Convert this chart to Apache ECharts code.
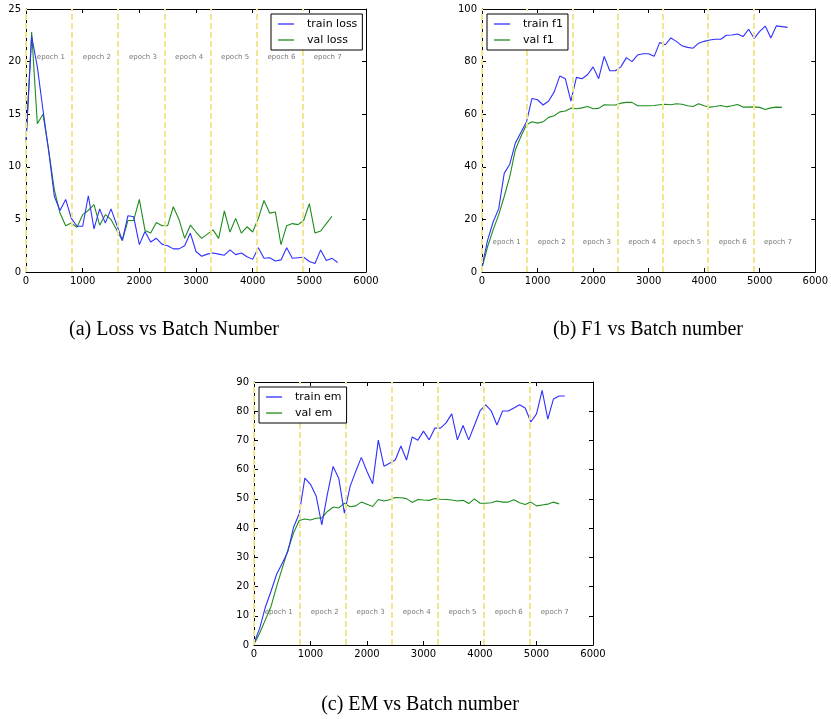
<!DOCTYPE html>
<html>
<head>
<meta charset="utf-8">
<script src="https://cdn.jsdelivr.net/npm/echarts@6/dist/echarts.min.js"></script>
<style>html,body{margin:0;padding:0;background:#fff;}#c{width:831px;height:719px;}</style>
</head>
<body>
<div id="c"></div>
<script>
// ---- data ----
const trainBatches = [0,100,200,300,400,500,600,700,800,900,1000,1100,1200,1300,1400,1500,1600,1700,1800,1900,2000,2100,2200,2300,2400,2500,2600,2700,2800,2900,3000,3100,3200,3300,3400,3500,3600,3700,3800,3900,4000,4100,4200,4300,4400,4500,4600,4700,4800,4900,5000,5100,5200,5300,5400,5500];
const valBatches = [0,100,200,300,400,500,600,700,800,900,1000,1100,1200,1300,1400,1500,1600,1700,1800,1900,2000,2100,2200,2300,2400,2500,2600,2700,2800,2900,3000,3100,3200,3300,3400,3500,3600,3700,3800,3900,4000,4100,4200,4300,4400,4500,4600,4700,4800,4900,5000,5100,5200,5300,5400];

const trainLoss = [12.5,22.4,19.5,15.4,11.5,7.2,5.85,6.9,5.1,4.35, 4.35,7.25,4.1,6.0,4.65,6.0,4.5,3.0,5.35,5.25, 2.6,3.85,2.85,3.2,2.65,2.5,2.2,2.2,2.5,3.7, 1.95,1.5,1.7,1.8,1.7,1.6,2.1,1.65,1.8,1.45, 1.2,2.3,1.3,1.35,1.05,1.15,2.3,1.3,1.35,1.4, 1.0,0.8,2.1,1.1,1.3,0.9];
const valLoss = [12.3,22.8,14.1,15.0,11.6,7.8,5.6,4.4,4.65,4.25, 5.45,5.85,6.4,4.45,5.45,5.0,4.0,3.0,4.9,4.9, 6.9,3.95,3.7,4.7,4.4,4.4,6.2,5.0,3.2,4.45, 3.8,3.2,3.6,4.0,3.2,5.8,3.8,5.1,3.7,4.3, 3.8,5.1,6.8,5.6,5.7,2.6,4.4,4.6,4.5,4.9, 6.5,3.7,3.9,4.6,5.3];

const trainF1 = [2,12,19,24,37.5,41,49,53,57,66, 65.5,63.5,65,68.5,74.5,73.5,65,74,73.5,75, 78,73.5,82,76.5,76.5,78,81.5,80,82.5,83, 83,82,87.3,86.4,89,87.7,86,85.4,85.1,87, 87.7,88.2,88.5,88.5,90,90.1,90.5,89.5,92.3,88.8, 91.5,93.5,89,93.6,93.3,93];
const valF1 = [1.5,9.6,16,21.7,28.7,36.3,46.4,51.5,56,57.1, 56.6,57.1,58.8,59.4,60.9,61.2,62.3,62.1,62.4,62.9, 62.1,62.2,63.6,63.5,63.5,64.2,64.5,64.5,63.2,63.2, 63.2,63.3,63.6,63.8,63.6,64.0,63.8,63.2,62.9,64.0, 63.2,62.7,62.9,63.3,62.8,63.2,63.7,62.7,62.7,62.8, 62.6,61.8,62.4,62.7,62.6];

const trainEM = [0.6,5.7,12.9,18.3,24.2,28,32,40.3,44.9,57.1, 55,51,41.1,51.7,61.1,57.1,45.1,54.2,59.4,64.2, 59.4,55.2,70.1,61.2,62.2,63.3,68.1,63.3,71.2,70.1, 73.2,70.2,74.2,74.2,76,79.1,70.2,75.1,70.2,75.1, 80.1,82.2,80.1,75.3,80.1,80.1,81.1,82.2,81.1,76.3, 79.1,87.1,77.3,84.2,85.2,85.2];
const valEM = [0.3,4,8.6,13.1,20,26.3,32.5,38.3,42.6,43.1, 42.8,43.4,43.5,45.7,47.2,46.9,48.5,47.3,47.6,48.9, 48.2,47.4,49.8,49.3,49.7,50.5,50.4,50.1,48.8,49.8, 49.6,49.5,50.1,49.9,49.8,49.6,49.3,49.5,48.4,50, 48.5,48.5,48.7,49.3,48.9,48.9,49.7,48.7,48.1,48.9, 47.6,47.9,48.2,48.9,48.3];

const epochBounds = [0,812,1625,2440,3252,4070,4885];
const epochNames = ['epoch 1','epoch 2','epoch 3','epoch 4','epoch 5','epoch 6','epoch 7'];
const epochLabelX = [200,1012,1825,2640,3452,4270,5085];
const epochLabelY = [20,10,10];

const xTicks = {min:0, max:6000, interval:1000};
const yTicks = [{min:0,max:25,interval:5},{min:0,max:100,interval:20},{min:0,max:90,interval:10}];

const seriesNames = [['train loss','val loss'],['train f1','val f1'],['train em','val em']];
const trainData = [trainLoss, trainF1, trainEM];
const valData = [valLoss, valF1, valEM];
const captions = ['(a) Loss vs Batch Number','(b) F1 vs Batch number','(c) EM vs Batch number'];

// ---- layout / styles ----
const grids = [
  {left:26, top:9, width:340, height:263},
  {left:482, top:9, width:339, height:263},
  {left:254, top:382, width:339, height:263}
];
const legendPos = [{left:271, top:14},{left:487, top:14},{left:259, top:387}];
const captionPos = [[174,330],[648,330],[420,705]];

const FONT = 'DejaVu Sans';
const BLUE = '#3030ff', GREEN = '#1e8c1e', EPOCH = '#efe68f';

function pairs(xs, ys){ return ys.map((v,i)=>[xs[i], v]); }
const plain = v => String(v);

const xAxes = [], yAxes = [], series = [], legends = [];
grids.forEach((g, i) => {
  const axLine = {show:true, onZero:false, lineStyle:{color:'#000', width:1}};
  const tick = {show:true, inside:true, length:4, lineStyle:{color:'#000', width:1}};
  xAxes.push({type:'value', gridIndex:i, position:'bottom', min:xTicks.min, max:xTicks.max, interval:xTicks.interval,
    axisLine:axLine, axisTick:tick, splitLine:{show:false},
    axisLabel:{fontSize:10, color:'#000', fontFamily:FONT, margin:4, formatter:plain}});
  xAxes.push({type:'value', gridIndex:i, position:'top', min:xTicks.min, max:xTicks.max, interval:xTicks.interval,
    axisLine:axLine, axisTick:tick, splitLine:{show:false}, axisLabel:{show:false}});
  yAxes.push({type:'value', gridIndex:i, position:'left', min:yTicks[i].min, max:yTicks[i].max, interval:yTicks[i].interval,
    axisLine:axLine, axisTick:tick, splitLine:{show:false},
    axisLabel:{fontSize:10, color:'#000', fontFamily:FONT, margin:5, formatter:plain}});
  yAxes.push({type:'value', gridIndex:i, position:'right', min:yTicks[i].min, max:yTicks[i].max, interval:yTicks[i].interval,
    axisLine:axLine, axisTick:tick, splitLine:{show:false}, axisLabel:{show:false}});

  const xi = 2*i, yi = 2*i;
  // epoch boundary lines
  series.push({type:'line', xAxisIndex:xi, yAxisIndex:yi, data:[], z:1, silent:true,
    markLine:{silent:true, symbol:'none', animation:false, label:{show:false},
      lineStyle:{color:EPOCH, width:2, type:[6,3]},
      data: epochBounds.map(b=>({xAxis:b}))}});
  // epoch labels
  series.push({type:'scatter', xAxisIndex:xi, yAxisIndex:yi, z:2, silent:true, symbolSize:1,
    itemStyle:{color:'rgba(0,0,0,0)'},
    data: epochLabelX.map((x,k)=>({value:[x, epochLabelY[i]], name:epochNames[k]})),
    label:{show:true, position:[0,0], align:'left', verticalAlign:'bottom', formatter:'{b}',
      fontSize:7, color:'#555', fontFamily:FONT}});
  series.push({type:'line', name:seriesNames[i][0], xAxisIndex:xi, yAxisIndex:yi, z:4, symbol:'none',
    lineStyle:{color:BLUE, width:1.1}, itemStyle:{color:BLUE}, data:pairs(trainBatches, trainData[i])});
  series.push({type:'line', name:seriesNames[i][1], xAxisIndex:xi, yAxisIndex:yi, z:3, symbol:'none',
    lineStyle:{color:GREEN, width:1.1}, itemStyle:{color:GREEN}, data:pairs(valBatches, valData[i])});

  legends.push({data:seriesNames[i], orient:'vertical', left:legendPos[i].left, top:legendPos[i].top,
    icon:'rect', itemWidth:16, itemHeight:1.3, itemGap:2, padding:[3,5,3,7],
    borderColor:'#000', borderWidth:1, borderRadius:0, backgroundColor:'#fff', selectedMode:false, z:10,
    textStyle:{fontFamily:FONT, fontSize:11, color:'#000', lineHeight:14, padding:[0,0,0,8]}});
});

const graphics = captions.map((t,i)=>({type:'text', x:captionPos[i][0], y:captionPos[i][1],
  style:{text:t, textAlign:'center', textVerticalAlign:'middle', font:'20px "Liberation Serif", "Times New Roman", serif', fill:'#000'}}));

const chart = echarts.init(document.getElementById('c'), null, {renderer:'canvas'});
chart.setOption({
  backgroundColor:'#fff',
  animation:false,
  grid:grids,
  xAxis:xAxes,
  yAxis:yAxes,
  legend:legends,
  series:series,
  graphic:graphics
});
</script>
</body>
</html>
